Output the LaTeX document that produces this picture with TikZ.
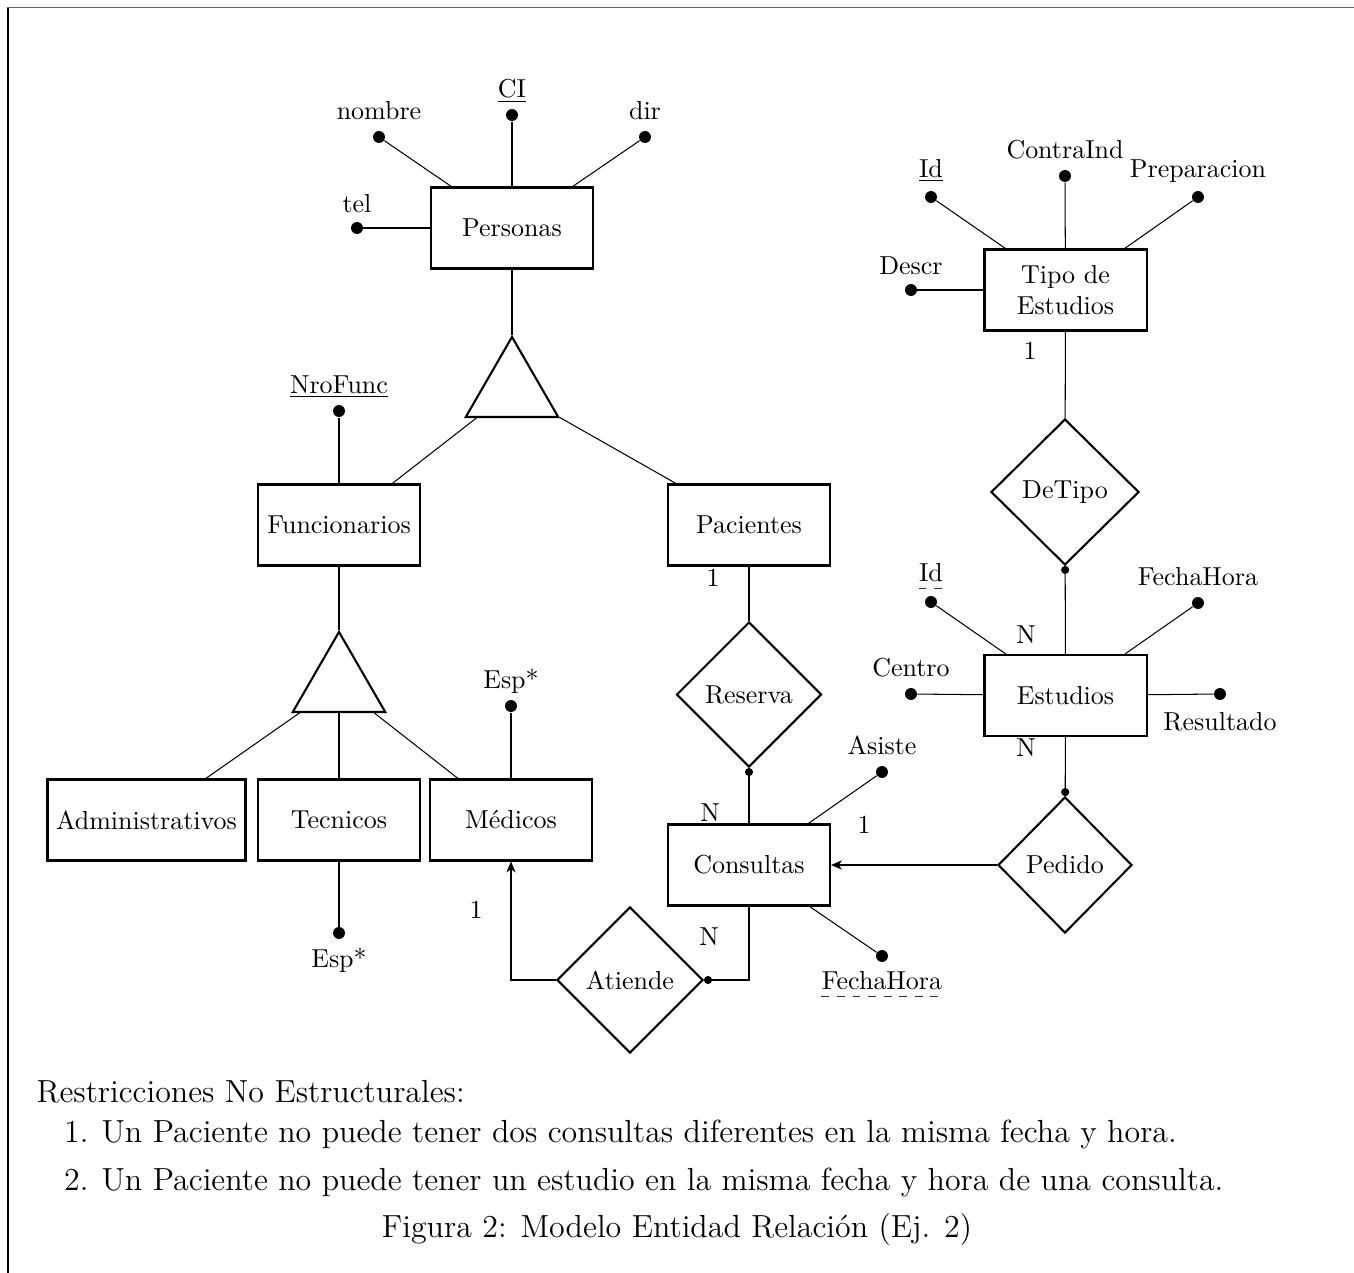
\documentclass[tikz,border=0pt]{standalone}
\usetikzlibrary{shapes.geometric,arrows.meta,calc}
\begin{document}
\begin{tikzpicture}[x=0.385pt,y=-0.385pt,
  entity/.style={draw,thick,minimum width=62.4pt,minimum height=31.2pt,inner sep=3.33pt,align=center},
  rel/.style={draw,thick,shape=diamond,inner sep=0pt},
  isa/.style={draw,thick,regular polygon,regular polygon sides=3,minimum size=41.1pt,inner sep=0pt},
  attr/.style={circle,fill,inner sep=0pt,minimum size=4.6pt},
  lbl/.style={inner sep=0pt,anchor=base},
  card/.style={inner sep=0pt},
  conn/.style={line width=0.4pt},
  dotend/.style={-{Circle[length=3.1pt]}},
  arr/.style={-{Stealth[length=4.2pt,width=3.6pt,inset=1.3pt]}},
  dashline/.style={dashed,line width=0.35pt,black!80},
  bodytext/.style={inner sep=0pt,font=\fontsize{12.3}{15}\selectfont}]
\useasboundingbox (0,0) rectangle (1354,1273);
% frame
\draw[black!60,line width=0.6pt] (7,7.5) -- (1354,7.5);
\draw[black,line width=0.5pt] (8,7.5) -- (8,1273);

% entities
\node[entity] (personas) at (512,228) {Personas};
\node[entity] (func) at (339,525) {Funcionarios};
\node[entity] (pac) at (749,525) {Pacientes};
\node[entity] (adm) at (146.5,820) {Administrativos};
\node[entity] (tec) at (339,820) {Tecnicos};
\node[entity] (med) at (511,820) {Médicos};
\node[entity] (cons) at (749,865) {Consultas};
\node[entity] (tipo) at (1065.5,290) {Tipo de\\Estudios};
\node[entity] (est) at (1065.5,695.5) {Estudios};

% isa triangles
\node[isa] (tri1) at (512,390.3) {};
\node[isa] (tri2) at (339,685.3) {};

% relationships
\node[rel,minimum width=55.8pt,minimum height=55.8pt] (reserva) at (749,694.5) {Reserva};
\node[rel,minimum width=56.2pt,minimum height=56.2pt] (atiende) at (630,980) {Atiende};
\node[rel,minimum width=51.6pt,minimum height=52.4pt] (pedido) at (1065,865) {Pedido};
\node[rel,minimum width=57pt,minimum height=56.2pt] (detipo) at (1065,492) {DeTipo};

% attributes: Personas
\node[attr] (aCI) at (512,115) {};
\node[lbl] (tCI) at (512,97) {\underline{CI}};
\node[attr] (aNom) at (379,137) {};
\node[lbl] (tNom) at (379,119) {nombre};
\node[attr] (aDir) at (645,137) {};
\node[lbl] (tDir) at (645,119) {dir};
\node[attr] (aTel) at (357,228) {};
\node[lbl] (tTel) at (357,212) {tel};
\draw[conn] (aCI) -- (personas);
\draw[conn] (aNom) -- (personas);
\draw[conn] (aDir) -- (personas);
\draw[conn] (aTel) -- (personas);

% Funcionarios
\node[attr] (aNro) at (339,411) {};
\node[lbl] (tNro) at (339,393) {\underline{NroFunc}};
\draw[conn] (aNro) -- (func);

% Medicos / Tecnicos
\node[attr] (aEspM) at (511,706) {};
\node[lbl] (tEspM) at (511,688) {Esp*};
\draw[conn] (aEspM) -- (med);
\node[attr] (aEspT) at (339,933) {};
\node[lbl] (tEspT) at (339,967) {Esp*};
\draw[conn] (tec) -- (aEspT);

% Consultas
\node[attr] (aAsi) at (882,772) {};
\node[lbl] (tAsi) at (882,754) {Asiste};
\draw[conn] (aAsi) -- (cons);
\node[attr] (aFHC) at (882,956) {};
\node[lbl] (tFHC) at (882,989) {FechaHora};
\draw[conn] (cons) -- (aFHC);
\draw[dashline] ($(tFHC.base west)+(0,7)$) -- ($(tFHC.base east)+(0,7)$);

% Tipo de Estudios
\node[attr] (aIdT) at (931,197) {};
\node[lbl] (tIdT) at (931,177) {\underline{Id}};
\node[attr] (aCon) at (1065,176) {};
\node[lbl] (tCon) at (1065,158) {ContraInd};
\node[attr] (aPre) at (1198,197) {};
\node[lbl] (tPre) at (1198,177) {Preparacion};
\node[attr] (aDes) at (911,290) {};
\node[lbl] (tDes) at (911,274) {Descr};
\draw[conn] (aIdT) -- (tipo);
\draw[conn] (aCon) -- (tipo);
\draw[conn] (aPre) -- (tipo);
\draw[conn] (aDes) -- (tipo);

% Estudios
\node[attr] (aIdE) at (931,602) {};
\node[lbl] (tIdE) at (931,581) {Id};
\draw[dashline] ($(tIdE.base west)+(0,7)$) -- ($(tIdE.base east)+(0,7)$);
\node[attr] (aFHE) at (1198,603) {};
\node[lbl] (tFHE) at (1198,585) {FechaHora};
\node[attr] (aCen) at (911,694) {};
\node[lbl] (tCen) at (911,676) {Centro};
\node[attr] (aRes) at (1220,694) {};
\node[lbl] (tRes) at (1220,730) {Resultado};
\draw[conn] (aIdE) -- (est);
\draw[conn] (aFHE) -- (est);
\draw[conn] (aCen) -- (est);
\draw[conn] (est) -- (aRes);

% ISA connectors
\draw[conn] (personas) -- (tri1);
\draw[conn] (tri1) -- (func);
\draw[conn] (tri1) -- (pac);
\draw[conn] (func) -- (tri2);
\draw[conn] (tri2) -- (adm);
\draw[conn] (tri2) -- (tec);
\draw[conn] (tri2) -- (med);

% relationship connectors
\draw[conn] (pac) -- (reserva);
\draw[conn,dotend] (cons) -- (reserva);
\draw[conn,dotend] (cons.south) |- (atiende.east);
\draw[conn,arr] (atiende.west) -| (med.south);
\draw[conn,arr] (pedido) -- (cons);
\draw[conn,dotend] (est) -- (pedido);
\draw[conn,dotend] (est) -- (detipo);
\draw[conn] (tipo) -- (detipo);

% cardinalities
\node[card] (c1) at (713,578) {1};
\node[card] (c2) at (710,813) {N};
\node[card] (c3) at (476,910) {1};
\node[card] (c4) at (709,937) {N};
\node[card] (c5) at (864,825) {1};
\node[card] (c6) at (1026,635) {N};
\node[card] (c7) at (1026,748) {N};
\node[card] (c8) at (1030,351) {1};

% bottom text
\node[bodytext,anchor=base west] (rtitle) at (36,1102) {Restricciones No Estructurales:};
\node[bodytext,anchor=base east] (n1) at (89,1142) {1.};
\node[bodytext,anchor=base west] (r1) at (101,1142) {Un Paciente no puede tener dos consultas diferentes en la misma fecha y hora.};
\node[bodytext,anchor=base east] (n2) at (89,1190) {2.};
\node[bodytext,anchor=base west] (r2) at (101,1190) {Un Paciente no puede tener un estudio en la misma fecha y hora de una consulta.};
\node[bodytext,anchor=base] (cap) at (677,1237) {Figura 2: Modelo Entidad Relación (Ej. 2)};
\end{tikzpicture}
\end{document}
